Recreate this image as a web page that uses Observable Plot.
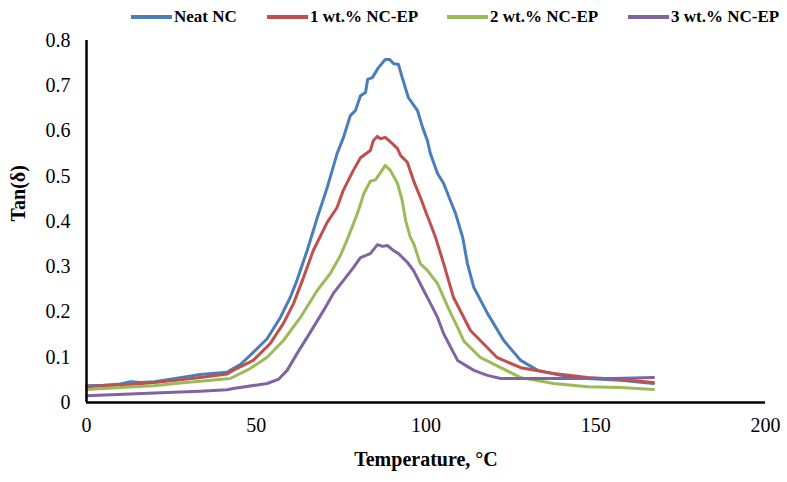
<!DOCTYPE html>
<html><head><meta charset="utf-8">
<script src="https://cdn.jsdelivr.net/npm/d3@7"></script>
<script src="https://cdn.jsdelivr.net/npm/@observablehq/plot@0.6"></script>
<style>
body{margin:0;background:#fff;}
#legend{position:relative;height:24px;width:787px;font:bold 17px "Liberation Serif",serif;color:#000;}
.item{position:absolute;top:6px;height:22px;display:flex;align-items:center;white-space:nowrap;}
.sw{width:41px;height:4px;margin-right:2px;}
#chart svg text{font-family:"Liberation Serif","Times New Roman",serif;}
</style></head><body>
<div id="legend"></div>
<div id="chart"></div>
<script>
const seriesNames = ["Neat NC", "1 wt.% NC-EP", "2 wt.% NC-EP", "3 wt.% NC-EP"];
const seriesColors = ["#4a7ebb", "#c0504d", "#9bbb59", "#8064a2"];
const xTicks = [0, 50, 100, 150, 200];
const yTicks = [0, 0.1, 0.2, 0.3, 0.4, 0.5, 0.6, 0.7, 0.8];

const neatT = [0, 5, 10, 13, 16, 20, 27.6, 33.5, 41.4, 43.2, 45.3, 48.2, 53.2, 57.1, 60, 62, 65, 68, 70.9, 73.8, 75.7, 77.7, 79.2, 80.7, 82.2, 82.8, 84.2, 86, 88, 89.3, 90.4, 91.9, 93, 94.8, 97.5, 99, 100.4, 101.3, 103.4, 105.2, 107.2, 108.7, 110.8, 112.2, 114.1, 118.1, 122.9, 127.9, 132.9, 139.7, 147.6, 157.4, 167];
const neatV = [0.037, 0.038, 0.041, 0.046, 0.044, 0.046, 0.055, 0.062, 0.067, 0.075, 0.084, 0.104, 0.141, 0.188, 0.232, 0.27, 0.336, 0.409, 0.475, 0.55, 0.586, 0.634, 0.645, 0.678, 0.685, 0.714, 0.718, 0.740, 0.758, 0.758, 0.749, 0.747, 0.718, 0.674, 0.645, 0.608, 0.579, 0.55, 0.506, 0.484, 0.446, 0.418, 0.365, 0.307, 0.254, 0.197, 0.137, 0.093, 0.071, 0.060, 0.053, 0.049, 0.042];

const ep1T = [0, 5, 12.8, 20, 27.6, 33.5, 41.4, 43.2, 49.1, 54.1, 58, 61, 63.9, 66.8, 70.9, 73.8, 75.7, 78.6, 80.7, 83.6, 84.5, 85.7, 86.6, 88, 90.1, 91.6, 92.5, 94.5, 96.3, 98.3, 100, 101.3, 102.8, 105.2, 108.1, 113.1, 121, 127.9, 137.6, 147.6, 157.4, 167];
const ep1V = [0.035, 0.037, 0.040, 0.044, 0.050, 0.055, 0.063, 0.071, 0.093, 0.13, 0.175, 0.219, 0.276, 0.336, 0.398, 0.431, 0.47, 0.513, 0.541, 0.557, 0.579, 0.588, 0.583, 0.586, 0.572, 0.561, 0.546, 0.531, 0.491, 0.454, 0.42, 0.395, 0.365, 0.307, 0.232, 0.159, 0.099, 0.077, 0.064, 0.055, 0.051, 0.044];

const ep2T = [0, 5, 12.8, 20, 27.6, 33.5, 42.3, 48.2, 53.2, 58, 63, 68, 71.8, 74.8, 76.8, 79.8, 81.7, 83.6, 85.1, 86.6, 88, 89.5, 91.6, 93, 94, 95.4, 96.4, 98.3, 100.4, 103.4, 106.3, 109.3, 111.2, 116.1, 122, 127.9, 137.6, 147.6, 157.4, 167];
const ep2V = [0.029, 0.031, 0.034, 0.037, 0.043, 0.047, 0.053, 0.075, 0.1, 0.137, 0.188, 0.248, 0.285, 0.325, 0.36, 0.418, 0.462, 0.489, 0.492, 0.508, 0.524, 0.513, 0.484, 0.446, 0.402, 0.365, 0.351, 0.307, 0.292, 0.263, 0.213, 0.166, 0.135, 0.099, 0.077, 0.055, 0.042, 0.035, 0.033, 0.029];

const ep3T = [0, 12.8, 27.6, 33.5, 41.4, 43.2, 53.2, 56.5, 59.1, 62, 65.9, 69.8, 72.7, 75.7, 78.6, 80.7, 83.6, 85.7, 87.2, 88.6, 90.4, 91.9, 94.5, 96.3, 99.3, 101.3, 103.4, 105.2, 109.3, 114.1, 118.1, 122, 135.8, 155.3, 167];
const ep3V = [0.015, 0.019, 0.023, 0.025, 0.028, 0.031, 0.042, 0.051, 0.071, 0.108, 0.155, 0.203, 0.241, 0.27, 0.298, 0.32, 0.329, 0.349, 0.345, 0.347, 0.336, 0.329, 0.31, 0.292, 0.248, 0.219, 0.188, 0.152, 0.093, 0.071, 0.06, 0.053, 0.053, 0.053, 0.055];

const seriesT = [neatT, ep1T, ep2T, ep3T];
const seriesV = [neatV, ep1V, ep2V, ep3V];
const data = [];
seriesNames.forEach((name, i) => {
  seriesT[i].forEach((t, j) => data.push({series: name, T: t, v: seriesV[i][j]}));
});

// legend
const legendPos = [131, 267, 447, 628];
const legend = document.getElementById("legend");
seriesNames.forEach((name, i) => {
  const it = document.createElement("div");
  it.className = "item";
  it.style.left = legendPos[i] + "px";
  it.innerHTML = `<span class="sw" style="background:${seriesColors[i]}"></span><span>${name}</span>`;
  legend.appendChild(it);
});

const chart = Plot.plot({
  width: 787,
  height: 458,
  marginLeft: 86,
  marginRight: 22,
  marginTop: 16,
  marginBottom: 80,
  style: {fontFamily: "'Liberation Serif', 'Times New Roman', serif", fontSize: "20px", color: "#000", background: "#fff", overflow: "visible"},
  x: {domain: [0, 200], ticks: xTicks, tickSize: 0, tickPadding: 15, label: null},
  y: {domain: [0, 0.8], ticks: yTicks, tickSize: 0, tickPadding: 16, label: null, tickFormat: d => d === 0 ? "0" : d3.format(".1f")(d)},
  color: {domain: seriesNames, range: seriesColors},
  marks: [
    Plot.line(data, {x: "T", y: "v", z: "series", stroke: "series", strokeWidth: 3, strokeLinejoin: "round"}),
    Plot.ruleX([0], {stroke: "#000", strokeWidth: 2.5}),
    Plot.ruleY([0], {stroke: "#000", strokeWidth: 2.5}),
    Plot.text(["Temperature, °C"], {text: d => d, frameAnchor: "bottom", dy: 63, fontWeight: "bold", fontSize: 20}),
    Plot.text(["Tan(δ)"], {text: d => d, frameAnchor: "left", dx: -68, rotate: -90, fontWeight: "bold", fontSize: 20})
  ]
});
document.getElementById("chart").appendChild(chart);
</script>
</body></html>
